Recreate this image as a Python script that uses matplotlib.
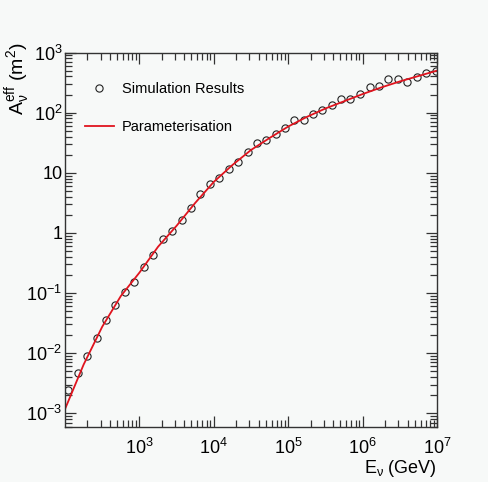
import numpy as np
import matplotlib
matplotlib.use("Agg")
import matplotlib.pyplot as plt
from matplotlib.ticker import FixedLocator, FixedFormatter, LogLocator, NullFormatter

plt.rcParams["font.family"] = ["Liberation Sans", "DejaVu Sans"]
plt.rcParams["mathtext.fontset"] = "custom"
plt.rcParams["mathtext.rm"] = "Liberation Sans"
plt.rcParams["mathtext.it"] = "Liberation Sans:italic"
plt.rcParams["mathtext.default"] = "regular"

# simulation results (log10 values)
sim_log_e = [2.045, 2.172, 2.295, 2.423, 2.55, 2.677, 2.80, 2.93, 3.06, 3.18,
             3.31, 3.436, 3.568, 3.691, 3.818, 3.945, 4.068, 4.2, 4.327, 4.455,
             4.573, 4.70, 4.83, 4.954, 5.082, 5.205, 5.328, 5.459, 5.582, 5.71,
             5.83, 5.96, 6.095, 6.218, 6.345, 6.468, 6.596, 6.727, 6.855, 6.98]
sim_log_a = [-2.62, -2.326, -2.04, -1.744, -1.452, -1.196, -0.98, -0.814, -0.565, -0.366,
             -0.10, 0.027, 0.216, 0.42, 0.653, 0.819, 0.907, 1.068, 1.18, 1.34,
             1.488, 1.55, 1.644, 1.744, 1.882, 1.87, 1.982, 2.048, 2.12, 2.226,
             2.22, 2.31, 2.42, 2.445, 2.558, 2.558, 2.508, 2.59, 2.657, 2.696]

# parameterisation curve (log10 values)
fit_log_e = [2.0, 2.25, 2.5, 2.75, 3.0, 3.25, 3.5, 3.75, 4.0, 4.25, 4.5,
             4.75, 5.0, 5.25, 5.5, 5.75, 6.0, 6.25, 6.5, 6.75, 7.0]
fit_log_a = [-2.93, -2.19, -1.56, -1.05, -0.66, -0.23, 0.12, 0.50, 0.85, 1.13, 1.38,
             1.58, 1.77, 1.93, 2.07, 2.19, 2.31, 2.42, 2.52, 2.61, 2.70]

xtick_vals = [1e3, 1e4, 1e5, 1e6, 1e7]
xtick_labels = ["$10^{3}$", "$10^{4}$", "$10^{5}$", "$10^{6}$", "$10^{7}$"]
ytick_vals = [1e-3, 1e-2, 1e-1, 1, 10, 1e2, 1e3]
ytick_labels = ["$10^{-3}$", "$10^{-2}$", "$10^{-1}$", "1", "10", "$10^{2}$", "$10^{3}$"]

bg = "#f7f9f8"
fig = plt.figure(figsize=(4.89, 4.82), dpi=100, facecolor=bg)
ax = fig.add_axes([0.133, 0.115, 0.761, 0.776], facecolor=bg)

ax.plot(10 ** np.array(sim_log_e), 10 ** np.array(sim_log_a),
        linestyle="none", marker="o", markersize=5.2, markerfacecolor="none",
        markeredgecolor="#222222", markeredgewidth=0.8, label="Simulation Results")
ax.plot(10 ** np.array(fit_log_e), 10 ** np.array(fit_log_a),
        color="#e0141e", linewidth=1.3, label="Parameterisation")

ax.set_xscale("log")
ax.set_yscale("log")
ax.set_xlim(1e2, 1e7)
ax.set_ylim(6e-4, 1e3)

ax.xaxis.set_major_locator(FixedLocator(xtick_vals))
ax.xaxis.set_major_formatter(FixedFormatter(xtick_labels))
ax.yaxis.set_major_locator(FixedLocator(ytick_vals))
ax.yaxis.set_major_formatter(FixedFormatter(ytick_labels))
ax.xaxis.set_minor_locator(LogLocator(base=10, subs=np.arange(2, 10), numticks=20))
ax.yaxis.set_minor_locator(LogLocator(base=10, subs=np.arange(2, 10), numticks=20))
ax.xaxis.set_minor_formatter(NullFormatter())
ax.yaxis.set_minor_formatter(NullFormatter())

ax.tick_params(which="both", direction="in", top=True, right=True,
               labelsize=13, width=0.9, color="#333333")
ax.tick_params(which="major", length=8)
ax.tick_params(axis="x", which="major", pad=8)
ax.tick_params(axis="y", which="major", pad=2)
ax.tick_params(which="minor", length=5)
for s in ax.spines.values():
    s.set_linewidth(1.0)
    s.set_color("#333333")

ax.set_xlabel(r"E$_{\nu}$ (GeV)", fontsize=13, loc="right", labelpad=0)
fig.text(18 / 489, 1 - 42 / 482, r"A$_{\nu}^{\rm eff}$ (m$^{2}$)", fontsize=14,
         rotation=90, ha="center", va="top")

ax.legend(loc="upper left", bbox_to_anchor=(0.018, 0.955), frameon=False,
          fontsize=10.5, handlelength=2.0, handletextpad=0.55, labelspacing=1.6)

fig.savefig("out.png", dpi=100, facecolor=bg)
